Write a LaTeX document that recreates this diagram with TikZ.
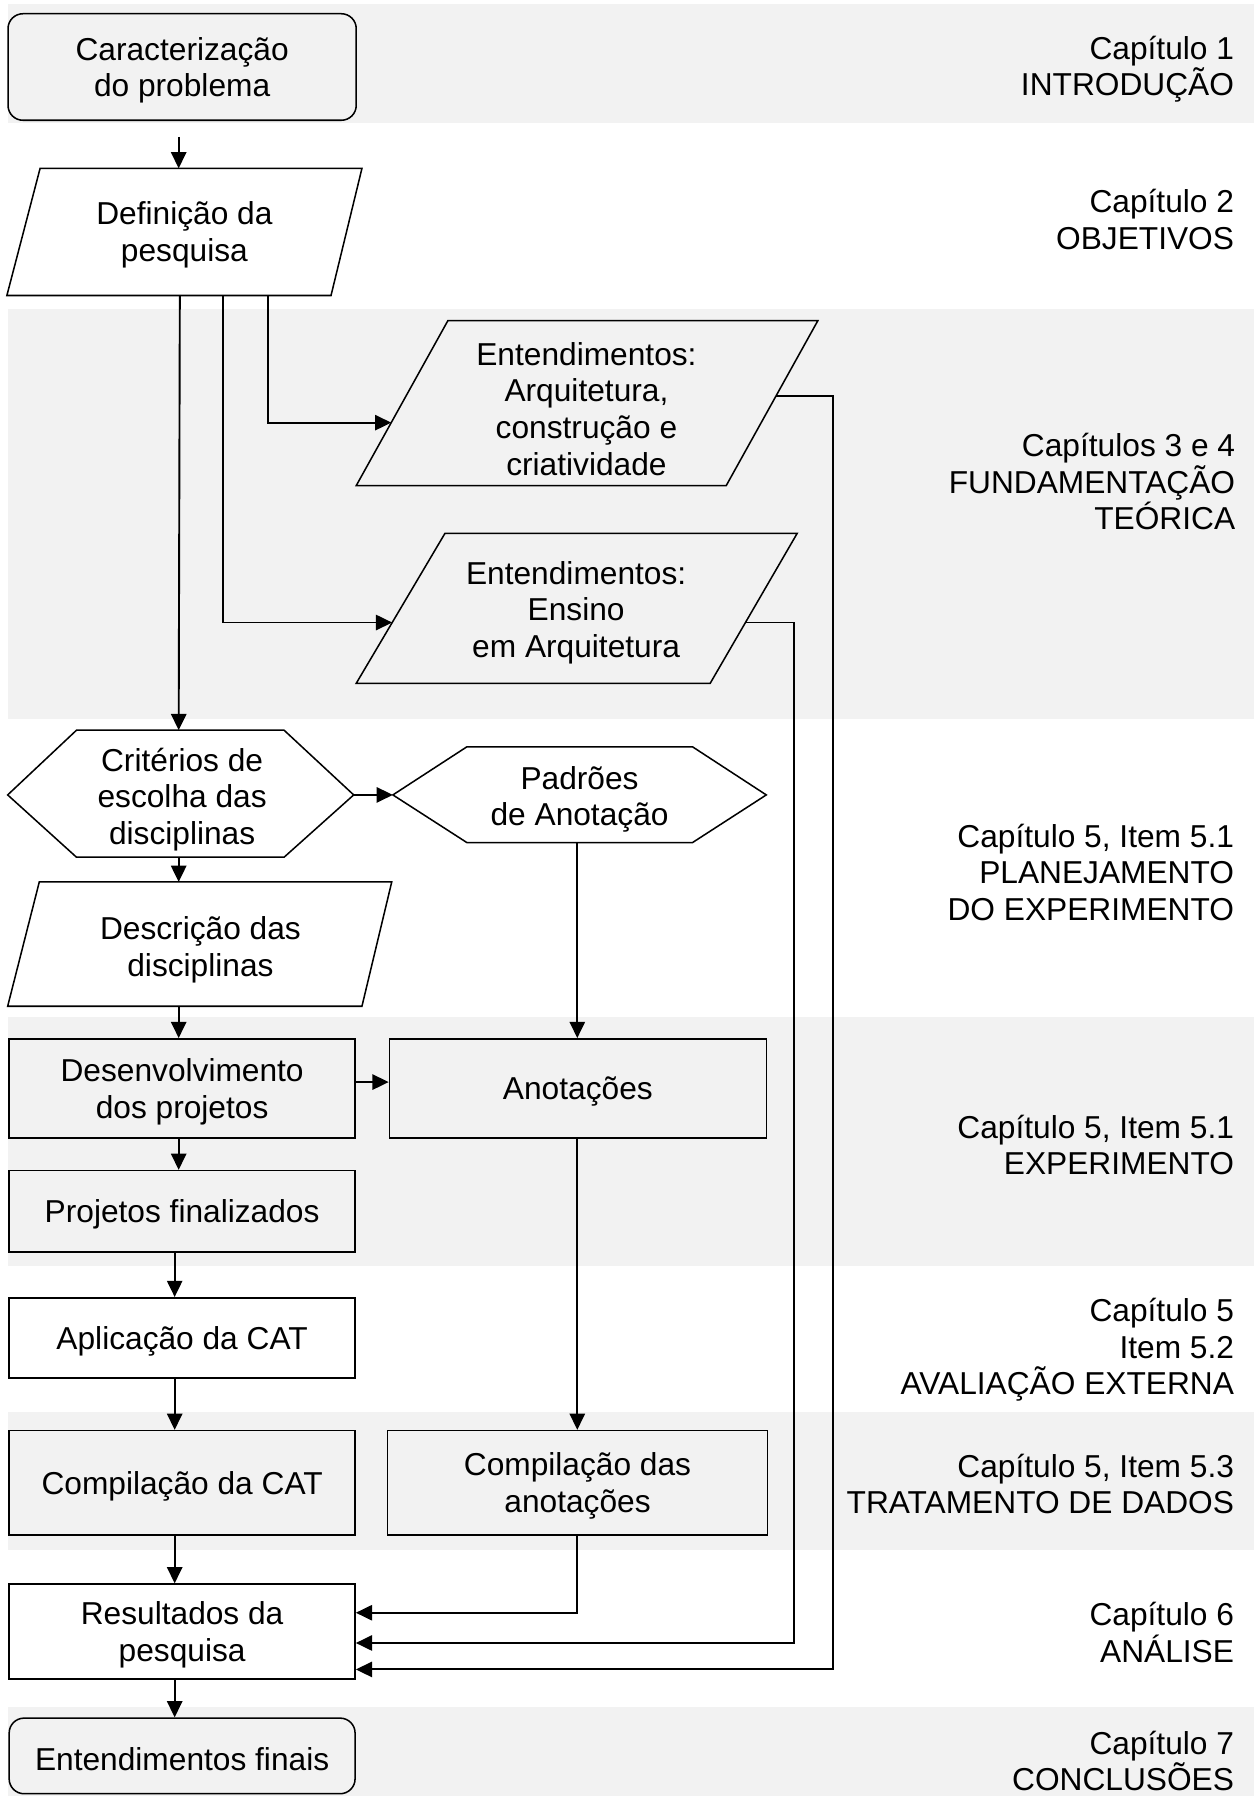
\documentclass[tikz,border=0pt]{standalone}
\usepackage{fontspec}
\setmainfont{Liberation Sans}
\usetikzlibrary{arrows.meta}
\definecolor{bandgray}{RGB}{242,242,242}
\begin{document}
\begin{tikzpicture}[x=0.6pt,y=-0.6pt,line width=0.8pt,
  txt/.style={inner sep=0pt,align=center,font=\fontsize{16.6}{19.2}\selectfont},
  boxnode/.style={draw,rectangle,inner sep=0pt,minimum width=181.2pt},
  roundnode/.style={boxnode,rounded corners=7.8pt},
  chap/.style={inner sep=0pt,align=right,anchor=east,font=\fontsize{16.6}{19.2}\selectfont},
  arr/.style={line width=1pt,-{Triangle[length=8.5pt,width=8pt]}},
  band/.style={fill=bandgray,draw=none}]
\useasboundingbox (0,0) rectangle (1095,1568);

% chapter bands
\fill[band] (7,3.5) rectangle (1095,107);
\fill[band] (7,270) rectangle (1095,628);
\fill[band] (7,888) rectangle (1095,1105);
\fill[band] (7,1233) rectangle (1095,1353);
\fill[band] (7,1490) rectangle (1095,1568);

% columns used by the vertical connectors
\coordinate (colA) at (156,0);
\coordinate (colB) at (152.5,0);

% rectangular steps (outline) and their captions (set slightly low)
\node[roundnode,minimum width=182.4pt,minimum height=55.8pt] (carac) at (159,58.5) {};
\node[txt] (carac-t) at ([yshift=-1.8pt]carac.center) {Caracterização\\do problema};
\node[boxnode,minimum height=51.9pt] (desenv) at (159,950.2) {};
\node[txt] (desenv-t) at ([yshift=-1.8pt]desenv.center) {Desenvolvimento\\dos projetos};
\node[boxnode,minimum width=197.4pt,minimum height=51.9pt] (anot) at (504.5,950.2) {};
\node[txt] (anot-t) at ([yshift=-1.8pt]anot.center) {Anotações};
\node[boxnode,minimum height=42.6pt] (proj) at (159,1057.5) {};
\node[txt] (proj-t) at ([yshift=-1.8pt]proj.center) {Projetos finalizados};
\node[boxnode,minimum height=42pt] (aplic) at (159,1168) {};
\node[txt] (aplic-t) at ([yshift=-1.8pt]aplic.center) {Aplicação da CAT};
\node[boxnode,minimum height=54.6pt] (compcat) at (159,1294.5) {};
\node[txt] (compcat-t) at ([yshift=-1.8pt]compcat.center) {Compilação da CAT};
\node[boxnode,minimum width=198.9pt,minimum height=54.6pt] (companot) at (504.2,1294.5) {};
\node[txt] (companot-t) at ([yshift=-1.8pt]companot.center) {Compilação das\\anotações};
\node[boxnode,minimum height=49.8pt] (result) at (159,1424.5) {};
\node[txt] (result-t) at ([yshift=-1.8pt]result.center) {Resultados da\\pesquisa};
\node[roundnode,minimum height=39.6pt] (final) at (159,1533) {};
\node[txt] (final-t) at ([yshift=-1.8pt]final.center) {Entendimentos finais};

% parallelogram: Definição da pesquisa
\draw (35,147) -- (316,147) -- (289,258) -- (6,258) -- cycle;
\node[txt] (def) at (161,205) {Definição da\\pesquisa};
\coordinate (defN) at (156,147);
\coordinate (defS1) at (157,258);
\coordinate (defS2) at (195,258);
\coordinate (defS3) at (234,258);

% parallelogram: Entendimentos (Arquitetura)
\draw (391,280) -- (714,280) -- (634,424) -- (311,424) -- cycle;
\node[txt] (entA) at (512,357) {Entendimentos:\\Arquitetura,\\construção e\\criatividade};
\coordinate (entAin) at (341.6,369);
\coordinate (entAout) at (677.3,346);

% parallelogram: Entendimentos (Ensino)
\draw (388.5,465.6) -- (696,465.6) -- (620,596.6) -- (311,596.6) -- cycle;
\node[txt] (entB) at (503,535) {Entendimentos:\\Ensino\\em Arquitetura};
\coordinate (entBin) at (342.4,543.5);
\coordinate (entBout) at (650.8,543.5);

% hexagon: Critérios
\draw (6.7,694) -- (66.8,637.5) -- (248,637.5) -- (308.8,694) coordinate (critE)
  -- (248,748.4) -- (66.8,748.4) -- cycle;
\node[txt] (crit) at (159,698) {Critérios de\\escolha das\\disciplinas};
\coordinate (critN) at (156,637.5);
\coordinate (critS) at (156,748.4);

% hexagon: Padrões
\draw (343,694) coordinate (padW) -- (407.6,652) -- (604.6,652) -- (669,694)
  -- (604.6,735.6) -- (407.6,735.6) -- cycle;
\node[txt] (pad) at (506,698) {Padrões\\de Anotação};
\coordinate (padS) at (504,735.6);

% parallelogram: Descrição
\draw (34.3,770) -- (342,770) -- (316,878.5) -- (6.7,878.5) -- cycle;
\node[txt] (desc) at (175,829) {Descrição das\\disciplinas};
\coordinate (descN) at (156,770);
\coordinate (descS) at (156,878.5);

% connectors
\coordinate (caracS) at (156,119.5);
\draw[arr] (caracS) -- (defN);
\draw[arr] (defS1) -- (critN);
\draw[arr] (defS2) |- (entBin);
\draw[arr] (defS3) |- (entAin);
\draw[arr] (critE) -- (padW);
\draw[arr] (critS) -- (descN);
\draw[arr] (padS) -- (anot.north -| padS);
\draw[arr] (descS) -- (desenv.north -| colA);
\draw[arr] ([yshift=3.3pt]desenv.east) -- ([yshift=3.3pt]anot.west);
\draw[arr] (desenv.south -| colA) -- (proj.north -| colA);
\draw[arr] (proj.south -| colB) -- (aplic.north -| colB);
\draw[arr] (aplic.south -| colB) -- (compcat.north -| colB);
\draw[arr] (anot.south -| padS) -- (companot.north -| padS);
\draw[arr] (compcat.south -| colB) -- (result.north -| colB);
\draw[arr] (result.south -| colB) -- (final.north -| colB);
\draw[arr] (companot.south -| padS) |- (result.east |- 0,1408);
\draw[arr] (entBout) -- (693,543.5) |- (result.east |- 0,1434.4);
\draw[arr] (entAout) -- (727,346) |- (result.east |- 0,1457.5);

% chapter labels
\node[chap] (c1) at (1078,60.5) {Capítulo 1\\INTRODUÇÃO};
\node[chap] (c2) at (1078,191.5) {Capítulo 2\\OBJETIVOS};
\node[chap] (c34) at (1079,420.5) {Capítulos 3 e 4\\FUNDAMENTAÇÃO\\TEÓRICA};
\node[chap] (c51a) at (1078,761.5) {Capítulo 5, Item 5.1\\PLANEJAMENTO\\DO EXPERIMENTO};
\node[chap] (c51b) at (1078,999.5) {Capítulo 5, Item 5.1\\EXPERIMENTO};
\node[chap] (c52) at (1078,1178.5) {Capítulo 5\\Item 5.2\\AVALIAÇÃO EXTERNA};
\node[chap] (c53) at (1078,1295.5) {Capítulo 5, Item 5.3\\TRATAMENTO DE DADOS};
\node[chap] (c6) at (1078,1425.5) {Capítulo 6\\ANÁLISE};
\node[chap] (c7) at (1078,1537.5) {Capítulo 7\\CONCLUSÕES};
\end{tikzpicture}
\end{document}
